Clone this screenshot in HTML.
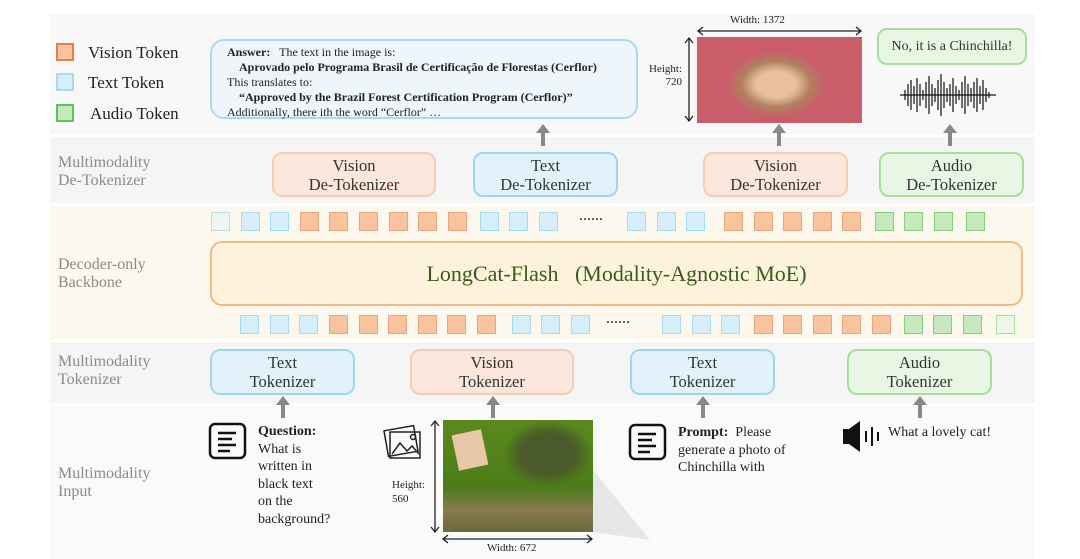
<!DOCTYPE html>
<html><head><meta charset="utf-8"><style>
body{margin:0;width:1080px;height:559px;background:#fff;position:relative;overflow:hidden;font-family:"Liberation Serif",serif;color:#222}
.a{position:absolute}
.band{position:absolute;left:50px;width:985px}
.lbl{position:absolute;left:58px;color:#8a8a8a;font-size:16px;line-height:18px}
.box{position:absolute;border-radius:10px;box-sizing:border-box;text-align:center;font-size:16.5px;line-height:19px;display:flex;align-items:center;justify-content:center;color:#333}
.vb{background:#fbe7dc;border:2px solid #f5cdb4}
.tb{background:#e2f2fa;border:2px solid #9fd6ee}
.ab{background:#e8f6e4;border:2px solid #a8dd9e}
.tk{position:absolute;width:19px;height:19px;box-sizing:border-box}
.o{background:#f8c4a0;border:1.5px solid #eea57c}
.b{background:#d6eefa;border:1.5px solid #a8daf2}
.g{background:#c6e8bd;border:1.5px solid #86cf7a}
.l{background:#eef6f3;border:1.5px solid #b9dcec}
.lg{background:#eef6ea;border:1.5px solid #a8dd9e}
</style></head><body>
<div class="band" style="top:14px;height:120px;background:#f8f8f8"></div>
<div class="band" style="top:137px;height:66px;background:#f5f5f5"></div>
<div class="band" style="top:206px;height:133px;background:#fdf8ee"></div>
<div class="band" style="top:342px;height:61px;background:#f5f5f5"></div>
<div class="band" style="top:406px;height:153px;background:#fafafa"></div>

<div class="a" style="left:56px;top:43px;width:18px;height:18px;background:#f8c4a0;border:2px solid #e0804a;box-sizing:border-box"></div>
<div class="a" style="left:56px;top:73px;width:18px;height:18px;background:#d6eefa;border:2px solid #a8daf2;box-sizing:border-box"></div>
<div class="a" style="left:56px;top:104px;width:18px;height:18px;background:#c6e8bd;border:2px solid #5cc45a;box-sizing:border-box"></div>
<div class="a" style="left:88px;top:43px;font-size:17px">Vision Token</div>
<div class="a" style="left:88px;top:73px;font-size:17px">Text Token</div>
<div class="a" style="left:90px;top:104px;font-size:17px">Audio Token</div>

<div class="lbl" style="top:154px">Multimodality<br>De-Tokenizer</div>
<div class="lbl" style="top:256px">Decoder-only<br>Backbone</div>
<div class="lbl" style="top:353px">Multimodality<br>Tokenizer</div>
<div class="lbl" style="top:465px">Multimodality<br>Input</div>

<div class="a" style="left:210px;top:39px;width:428px;height:80px;box-sizing:border-box;border:2px solid #a8daf2;border-radius:14px;background:#eef6fb;font-size:12px;line-height:15px;padding:4px 0 0 15px">
<b>Answer:</b>&nbsp;&nbsp; The text in the image is:<br>
&nbsp;&nbsp;&nbsp;&nbsp;<b>Aprovado pelo Programa Brasil de Certificação de Florestas (Cerflor)</b><br>
This translates to:<br>
&nbsp;&nbsp;&nbsp;&nbsp;<b>“Approved by the Brazil Forest Certification Program (Cerflor)”</b><br>
Additionally, there ith the word “Cerflor” …</div>

<div class="a" style="left:697px;top:37px;width:165px;height:86px;background:radial-gradient(ellipse 30% 38% at 48% 55%,#e8c0a0 0 40%,#b08060 70%,transparent 100%),#c95e6a"></div>
<div class="a" style="left:730px;top:14px;font-size:11px">Width: 1372</div>
<div class="a" style="left:649px;top:63px;font-size:11px;text-align:right;line-height:13px">Height:<br>&nbsp;&nbsp;720</div>
<div class="box ab" style="left:877px;top:28px;width:150px;height:37px;font-size:14px">No, it is a Chinchilla!</div>

<div class="box vb" style="left:272px;top:152px;width:164px;height:45px">Vision<br>De-Tokenizer</div>
<div class="box tb" style="left:473px;top:152px;width:145px;height:45px">Text<br>De-Tokenizer</div>
<div class="box vb" style="left:703px;top:152px;width:145px;height:45px">Vision<br>De-Tokenizer</div>
<div class="box ab" style="left:879px;top:152px;width:145px;height:45px">Audio<br>De-Tokenizer</div>

<div class="box" style="left:210px;top:241px;width:813px;height:65px;background:#fdf2dc;border:2px solid #f2b98a;border-radius:12px;font-size:22px;color:#3d5a1e">LongCat-Flash&nbsp;&nbsp; (Modality-Agnostic MoE)</div>

<div class="box tb" style="left:210px;top:349px;width:145px;height:46px">Text<br>Tokenizer</div>
<div class="box vb" style="left:410px;top:349px;width:164px;height:46px">Vision<br>Tokenizer</div>
<div class="box tb" style="left:630px;top:349px;width:145px;height:46px">Text<br>Tokenizer</div>
<div class="box ab" style="left:847px;top:349px;width:145px;height:46px">Audio<br>Tokenizer</div>

<!-- tokens top -->
<div class="tk l" style="left:211px;top:212px"></div><div class="tk b" style="left:241px;top:212px"></div><div class="tk b" style="left:270px;top:212px"></div>
<div class="tk o" style="left:300px;top:212px"></div><div class="tk o" style="left:329px;top:212px"></div><div class="tk o" style="left:359px;top:212px"></div><div class="tk o" style="left:389px;top:212px"></div><div class="tk o" style="left:418px;top:212px"></div><div class="tk o" style="left:448px;top:212px"></div>
<div class="tk b" style="left:480px;top:212px"></div><div class="tk b" style="left:509px;top:212px"></div><div class="tk b" style="left:539px;top:212px"></div>
<div class="a" style="left:579px;top:207px;font-size:16px">......</div>
<div class="tk b" style="left:627px;top:212px"></div><div class="tk b" style="left:657px;top:212px"></div><div class="tk b" style="left:686px;top:212px"></div>
<div class="tk o" style="left:724px;top:212px"></div><div class="tk o" style="left:754px;top:212px"></div><div class="tk o" style="left:783px;top:212px"></div><div class="tk o" style="left:813px;top:212px"></div><div class="tk o" style="left:842px;top:212px"></div>
<div class="tk g" style="left:875px;top:212px"></div><div class="tk g" style="left:904px;top:212px"></div><div class="tk g" style="left:934px;top:212px"></div><div class="tk g" style="left:966px;top:212px"></div>
<!-- tokens bottom -->
<div class="tk b" style="left:240px;top:315px"></div><div class="tk b" style="left:270px;top:315px"></div><div class="tk b" style="left:299px;top:315px"></div>
<div class="tk o" style="left:329px;top:315px"></div><div class="tk o" style="left:359px;top:315px"></div><div class="tk o" style="left:388px;top:315px"></div><div class="tk o" style="left:418px;top:315px"></div><div class="tk o" style="left:447px;top:315px"></div><div class="tk o" style="left:477px;top:315px"></div>
<div class="tk b" style="left:512px;top:315px"></div><div class="tk b" style="left:541px;top:315px"></div><div class="tk b" style="left:571px;top:315px"></div>
<div class="a" style="left:606px;top:310px;font-size:16px">......</div>
<div class="tk b" style="left:662px;top:315px"></div><div class="tk b" style="left:692px;top:315px"></div><div class="tk b" style="left:721px;top:315px"></div>
<div class="tk o" style="left:754px;top:315px"></div><div class="tk o" style="left:783px;top:315px"></div><div class="tk o" style="left:813px;top:315px"></div><div class="tk o" style="left:842px;top:315px"></div><div class="tk o" style="left:872px;top:315px"></div>
<div class="tk g" style="left:904px;top:315px"></div><div class="tk g" style="left:933px;top:315px"></div><div class="tk g" style="left:963px;top:315px"></div><div class="tk lg" style="left:996px;top:315px"></div>

<!-- input -->
<div class="a" style="left:443px;top:420px;width:150px;height:112px;background:radial-gradient(ellipse at 70% 30%,#4a5a2a 0 18%,transparent 30%),linear-gradient(180deg,#5a8a1c 0%,#4c7c18 60%,#8a7a50 80%,#6a6a3a 100%)"></div>
<div class="a" style="left:455px;top:432px;width:30px;height:36px;background:#e8c8a8;transform:rotate(-12deg)"></div>
<div class="a" style="left:392px;top:478px;font-size:11px;line-height:14px">Height:<br>560</div>
<div class="a" style="left:487px;top:542px;font-size:11px">Width: 672</div>
<div class="a" style="left:258px;top:423px;font-size:14px;line-height:17.5px"><b>Question:</b><br>What is<br>written in<br>black text<br>on the<br>background?</div>
<div class="a" style="left:678px;top:424px;font-size:14px;line-height:17.5px"><b>Prompt:</b>&nbsp; Please<br>generate a photo of<br>Chinchilla with</div>
<div class="a" style="left:888px;top:425px;font-size:14px">What a lovely cat!</div>

<svg class="a" style="left:0;top:0" width="1080" height="559">
<defs><g id="ar"><rect x="-2" y="6" width="4" height="14"/><path d="M-7,7 L0,-2 L7,7z"/></g></defs>
<g fill="#888">
<use href="#ar" x="543" y="126"/><use href="#ar" x="779" y="126"/><use href="#ar" x="950" y="126"/>
<use href="#ar" x="283" y="398"/><use href="#ar" x="493" y="398"/><use href="#ar" x="703" y="398"/><use href="#ar" x="920" y="398"/>
</g>
<g stroke="#222" stroke-width="1.3" fill="none">
<line x1="698" y1="31" x2="861" y2="31"/><path d="M703,27 L698,31 L703,35 M856,27 L861,31 L856,35"/>
<line x1="689" y1="38" x2="689" y2="121"/><path d="M685,43 L689,38 L693,43 M685,116 L689,121 L693,116"/>
<line x1="435" y1="421" x2="435" y2="532"/><path d="M431,426 L435,421 L439,426 M431,527 L435,532 L439,527"/>
<line x1="443" y1="539" x2="592" y2="539"/><path d="M448,535 L443,539 L448,543 M587,535 L592,539 L587,543"/>
</g>
<polygon points="593,470 593,532 650,540" fill="#e6e6e6"/>
<g stroke="#111" stroke-width="2.5" fill="none">
<rect x="210" y="424" width="35" height="34" rx="5"/>
<rect x="630" y="425" width="35" height="34" rx="5"/>
</g>
<g stroke="#111" stroke-width="2.5">
<line x1="218" y1="433" x2="236" y2="433"/><line x1="218" y1="439" x2="232" y2="439"/><line x1="218" y1="445" x2="236" y2="445"/><line x1="218" y1="451" x2="230" y2="451"/>
<line x1="638" y1="434" x2="656" y2="434"/><line x1="638" y1="440" x2="652" y2="440"/><line x1="638" y1="446" x2="656" y2="446"/><line x1="638" y1="452" x2="650" y2="452"/>
</g>
<g stroke="#222" stroke-width="1.5" fill="none">
<rect x="386" y="428" width="30" height="26" transform="rotate(-10 401 441)"/>
<rect x="390" y="432" width="30" height="26"/>
<path d="M392,454 L400,443 L407,451 L412,446 L419,454"/><circle cx="413" cy="437" r="2.5"/>
</g>
<rect x="843" y="429" width="6" height="15" fill="#111"/><path d="M849,429 L860,421 L860,452 L849,444z" fill="#111"/>
<g stroke="#111" stroke-width="2"><line x1="866" y1="431" x2="866" y2="442"/><line x1="872" y1="427" x2="872" y2="446"/><line x1="878" y1="432" x2="878" y2="441"/></g>
<g stroke="#111" stroke-width="1.2">
<line x1="900" y1="95" x2="996" y2="95"/>
<path d="M905,90v10M908,84v22M911,80v30M914,86v18M917,78v34M920,84v22M923,90v10M926,82v26M929,76v38M932,84v22M935,88v14M938,80v30M941,74v42M944,82v26M947,88v14M950,84v22M953,78v34M956,86v18M959,90v10M962,82v26M965,76v38M968,84v22M971,88v14M974,82v26M977,78v34M980,86v18M983,80v30M986,88v14M989,92v6"/>
</g>
</svg>
</body></html>
